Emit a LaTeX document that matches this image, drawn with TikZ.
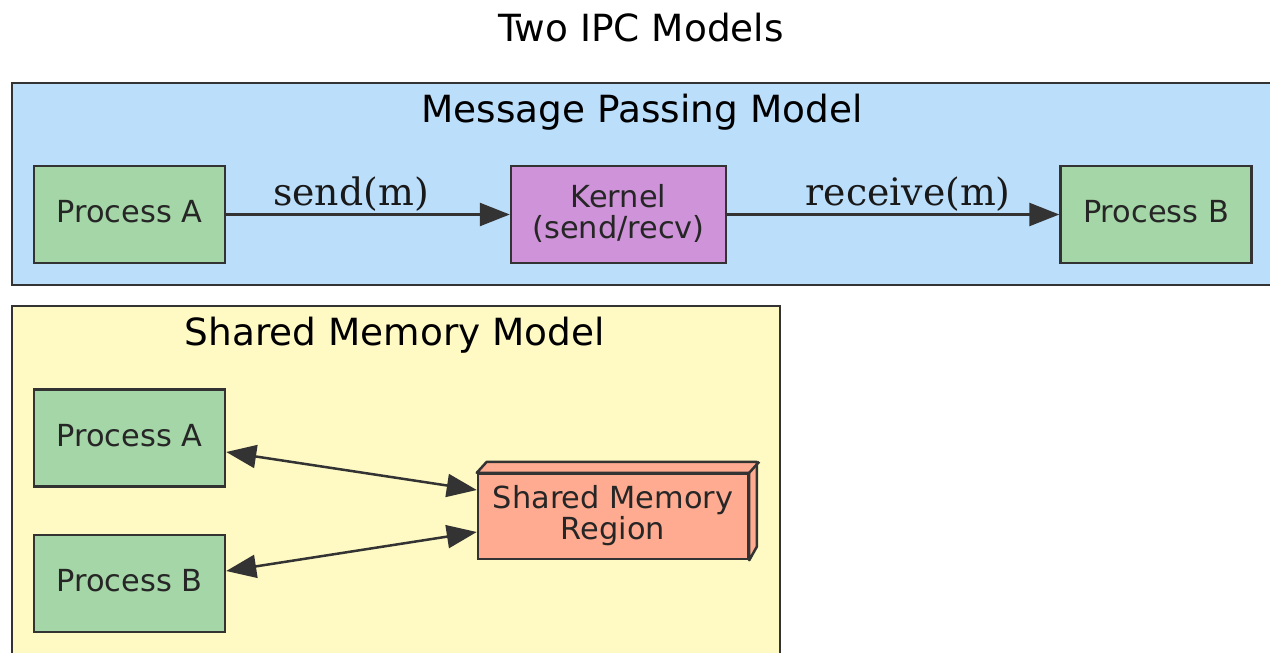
\documentclass[tikz,border=0pt]{standalone}
\usepackage{fontspec}
\setmainfont{DejaVu Sans}
\newfontfamily\labelfont{DejaVu Serif}
\usetikzlibrary{positioning}
\usetikzlibrary{arrows.meta}
\definecolor{msgblue}{HTML}{BBDEFB}
\definecolor{shmyellow}{HTML}{FFF9C4}
\definecolor{procgreen}{HTML}{A5D6A7}
\definecolor{kernpurple}{HTML}{CE93D8}
\definecolor{shmsalmon}{HTML}{FFAB91}
\definecolor{linegray}{HTML}{333333}
\tikzset{
    cluster/.style = {draw=linegray, line width=0.05cm},
    title/.style = {font=\fontsize{21.3}{24}\selectfont, text=black},
    proc/.style = {rectangle, draw=linegray, line width=0.05cm, minimum width=3.82cm, minimum height=1.94cm, fill=procgreen, text=black!85, font=\fontsize{17.3}{18.1}\selectfont, inner sep=0pt, text depth=0.12cm},
    kern/.style = {proc, fill=kernpurple, minimum width=4.30cm, align=center},
    shm/.style = {proc, fill=shmsalmon, minimum width=5.40cm, minimum height=1.70cm, align=center, text depth=0.16cm},
    elabel/.style = {font=\labelfont\fontsize{21.5}{24}\selectfont, text=black!90, inner sep=1pt},
    edgen/.style = {-{Triangle[length=0.6cm,width=0.46cm]}, line width=0.05cm, draw=linegray},
    edgeb/.style = {{Triangle[length=0.6cm,width=0.46cm]}-{Triangle[length=0.6cm,width=0.46cm]}, line width=0.05cm, draw=linegray}
}
\begin{document}
\begin{tikzpicture}[x=0.02cm, y=-0.02cm]
\path[use as bounding box, clip] (0,0) rectangle (1270,652);
%
% clusters
\path[cluster, fill=msgblue] (12,83) rectangle (1290,285);
\path[cluster, fill=shmyellow] (12,306) rectangle (780,680);
\node[title] at (641,28) (ttl) {Two IPC Models};
\node[title] at (642,112) (msgttl) {Message Passing Model};
\node[title] at (395,335) (shmttl) {Shared Memory Model};
%
% message passing
\node[proc] at (129.5,214.5) (pa1) {Process A};
\node[kern] at (618.5,214.5) (kern) {Kernel\\(send/recv)};
\node[proc] at (1156,214.5) (pb1) {Process B};
%
\draw[edgen] (pa1) -- node[elabel, pos=0.44, above] {send(m)} (kern);
\draw[edgen] (kern) -- node[elabel, pos=0.545, above] {receive(m)} (pb1);
%
% shared memory
\node[proc] at (129.5,438) (pa2) {Process A};
\node[proc] at (129.5,583.5) (pb2) {Process B};
\node[shm] at (613,516.5) (mem) {Shared Memory\\Region};
\draw[linegray, line width=0.05cm, fill=shmsalmon, line join=round]
    (mem.north west) -- ++(10,-11) -- ++(270,0) -- ++(0,85) -- (mem.south east) -- (mem.north east) -- cycle;
\draw[linegray, line width=0.05cm] (mem.north east) -- ++(10,-11);
%
\draw[edgeb] ([yshift=-0.28cm]pa2.east) -- ([yshift=0.53cm]mem.west);
\draw[edgeb] ([yshift=0.25cm]pb2.east) -- ([yshift=-0.31cm]mem.west);

\end{tikzpicture}
\end{document}
